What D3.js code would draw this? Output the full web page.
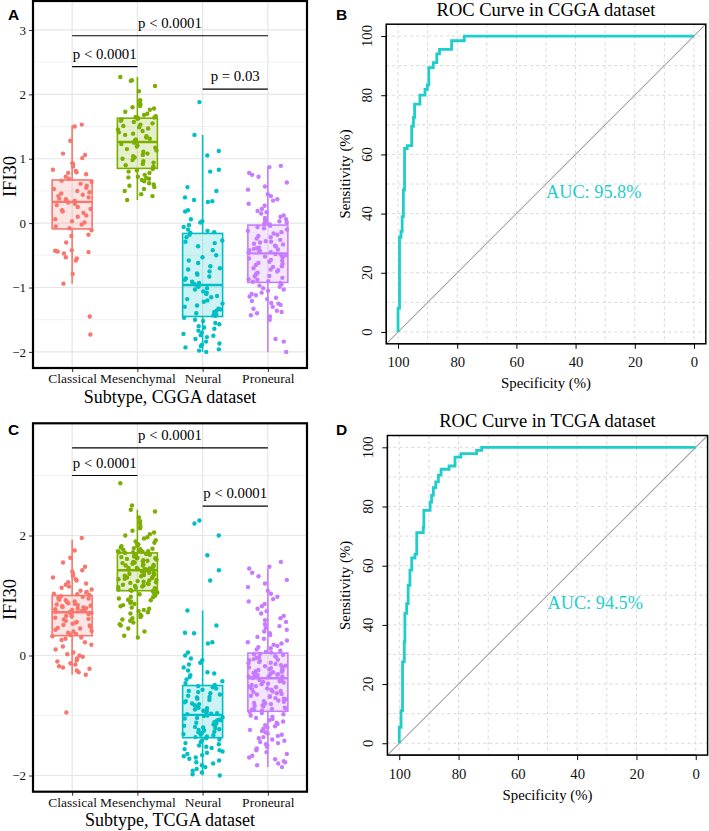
<!DOCTYPE html>
<html>
<head>
<meta charset="utf-8">
<title>IFI30 by subtype and ROC curves</title>
<script src="https://d3js.org/d3.v7.min.js"></script>
<style>
  body { margin: 0; background: #fff; }
  svg { display: block; }
</style>
</head>
<body>
<svg width="709" height="831"></svg>
<script>
// ---- data ----
var subtypes = ['Classical', 'Mesenchymal', 'Neural', 'Proneural'];
var colors = ['#F8766D', '#7CAE00', '#00BFC4', '#C77CFF'];
var rocColor = '#1FCECB';

// CGGA IFI30 values per subtype
var cggaClassical = [1.53,1.50,1.28,1.08,1.06,1.01,0.93,0.92,0.88,0.83,0.81,0.79,0.78,0.76,0.72,0.69,
  0.66,0.64,0.61,0.58,0.55,0.53,0.50,0.48,0.46,0.44,0.42,0.40,0.38,0.37,0.35,0.34,
  0.32,0.30,0.28,0.25,0.22,0.20,0.18,0.16,0.12,0.10,0.06,0.03,0.01,-0.02,-0.05,-0.08,
  -0.11,-0.18,-0.20,-0.30,-0.42,-0.43,-0.45,-0.47,-0.53,-0.55,-0.58,-0.79,-0.94,-1.45,-1.73,-0.44];
var cggaMesenchymal = [2.27,2.22,2.21,2.13,2.05,1.91,1.86,1.84,1.82,1.80,1.78,1.76,1.73,1.70,1.68,1.66,1.65,1.64,1.64,1.63,
  1.62,1.61,1.59,1.57,1.55,1.53,1.51,1.49,1.47,1.45,1.43,1.41,1.39,1.37,1.35,1.33,1.31,1.30,1.28,1.27,
  1.25,1.23,1.21,1.19,1.17,1.15,1.13,1.11,1.08,1.06,1.04,1.02,1.00,0.98,0.96,0.94,0.92,0.90,0.88,0.86,
  0.84,0.82,0.80,0.78,0.75,0.72,0.71,0.70,0.69,0.67,0.65,0.62,0.60,0.58,0.56,0.53,0.50,0.45,0.42,0.36];
var cggaNeural = [1.88,1.37,1.12,1.05,0.83,0.80,0.56,0.50,0.40,0.36,0.34,0.33,0.20,0.18,0.06,0.03,0.01,-0.03,-0.06,-0.10,-0.12,-0.14,-0.15,
  -0.18,-0.22,-0.27,-0.29,-0.31,-0.36,-0.42,-0.50,-0.53,-0.58,-0.62,-0.67,-0.70,-0.72,-0.75,-0.78,-0.80,-0.83,-0.86,-0.88,-0.91,-0.93,-0.95,
  -0.97,-0.99,-1.01,-1.03,-1.06,-1.08,-1.10,-1.13,-1.15,-1.18,-1.20,-1.22,-1.25,-1.28,-1.30,-1.33,-1.34,-1.36,-1.38,-1.40,-1.42,-1.43,-1.44,
  -1.47,-1.50,-1.52,-1.55,-1.57,-1.60,-1.62,-1.64,-1.67,-1.70,-1.72,-1.74,-1.75,-1.77,-1.80,-1.84,-1.87,-1.89,-1.91,-1.93,-1.96,-1.98,-2.00];
var cggaProneural = [0.89,0.87,0.78,0.75,0.72,0.63,0.57,0.52,0.45,0.42,0.37,0.35,0.30,0.27,0.22,0.19,0.17,0.15,0.12,0.10,0.08,0.06,0.05,0.03,0.02,0.01,-0.01,-0.02,
  -0.04,-0.06,-0.08,-0.10,-0.12,-0.14,-0.16,-0.18,-0.20,-0.22,-0.24,-0.26,-0.28,-0.29,-0.30,-0.32,-0.33,-0.35,-0.36,-0.38,-0.39,-0.40,-0.41,-0.42,-0.43,-0.44,-0.45,-0.46,
  -0.48,-0.49,-0.50,-0.52,-0.53,-0.55,-0.57,-0.58,-0.60,-0.62,-0.63,-0.65,-0.67,-0.68,-0.70,-0.72,-0.73,-0.75,-0.77,-0.78,-0.80,-0.82,-0.83,-0.85,-0.87,-0.88,-0.90,-0.91,
  -0.93,-0.95,-0.97,-0.99,-1.01,-1.03,-1.05,-1.08,-1.10,-1.12,-1.14,-1.16,-1.18,-1.21,-1.24,-1.27,-1.30,-1.33,-1.36,-1.38,-1.40,-1.43,-1.45,-1.50,-1.80,-1.84,-2.00,-1.25];

// CGGA box statistics
var cggaLow    = [-0.94, 0.36, -2.00, -2.00];
var cggaQ1     = [-0.09, 0.85, -1.45, -0.92];
var cggaMedian = [ 0.33, 1.26, -0.96, -0.47];
var cggaQ3     = [ 0.67, 1.63, -0.16, -0.03];
var cggaHigh   = [ 1.52, 2.27,  1.37,  0.87];

// TCGA IFI30 values per subtype
var tcgaClassical = [1.96,1.75,1.63,1.55,1.48,1.42,1.40,1.36,1.33,1.30,1.27,1.25,1.22,1.20,1.18,1.15,1.13,1.10,1.08,1.06,1.05,1.03,1.02,1.01,
  0.99,0.98,0.96,0.95,0.93,0.92,0.90,0.89,0.87,0.86,0.85,0.84,0.83,0.82,0.81,0.80,0.79,0.78,0.77,0.76,0.75,0.74,0.73,0.72,
  0.71,0.69,0.68,0.66,0.65,0.63,0.61,0.60,0.58,0.56,0.55,0.53,0.51,0.50,0.48,0.46,0.45,0.43,0.41,0.40,0.38,0.36,0.35,0.34,
  0.32,0.30,0.28,0.26,0.22,0.18,0.15,0.10,0.05,0.02,0.00,-0.02,-0.05,-0.08,-0.10,-0.13,-0.15,-0.18,-0.20,-0.22,-0.25,-0.28,-0.32,-0.95];
var tcgaMesenchymal = [2.87,2.50,2.43,2.40,2.30,2.24,2.20,2.15,2.12,2.08,2.05,2.02,2.00,1.97,1.95,1.92,1.90,1.88,1.86,1.85,1.83,1.82,1.80,1.79,1.78,1.77,1.76,1.75,1.74,1.74,1.73,1.72,1.72,1.71,
  1.70,1.69,1.68,1.68,1.67,1.66,1.65,1.64,1.63,1.62,1.62,1.61,1.60,1.59,1.58,1.57,1.56,1.55,1.54,1.53,1.52,1.51,1.50,1.50,1.49,1.48,1.47,1.46,1.46,1.45,1.44,1.44,1.43,1.43,
  1.41,1.40,1.39,1.38,1.37,1.36,1.35,1.34,1.33,1.32,1.31,1.30,1.29,1.28,1.27,1.26,1.25,1.24,1.23,1.22,1.21,1.20,1.19,1.18,1.17,1.16,1.15,1.14,1.13,1.12,1.11,1.10,1.09,1.08,
  1.07,1.05,1.04,1.02,1.00,0.98,0.97,0.95,0.93,0.92,0.90,0.88,0.86,0.84,0.82,0.80,0.78,0.76,0.74,0.72,0.70,0.68,0.66,0.64,0.62,0.60,0.58,0.55,0.52,0.50,0.45,0.40,0.33,0.30];
var tcgaNeural = [2.25,2.20,2.00,1.67,1.42,1.25,0.75,0.50,0.38,0.37,0.22,0.20,0.05,0.00,-0.05,-0.08,-0.12,-0.15,-0.20,-0.25,-0.28,-0.30,-0.33,-0.36,-0.40,-0.43,-0.46,-0.49,
  -0.51,-0.53,-0.55,-0.57,-0.59,-0.61,-0.63,-0.65,-0.67,-0.69,-0.70,-0.72,-0.74,-0.76,-0.78,-0.80,-0.81,-0.83,-0.85,-0.87,-0.88,-0.90,-0.92,-0.93,-0.95,-0.96,-0.97,-0.98,
  -1.00,-1.01,-1.03,-1.04,-1.05,-1.07,-1.08,-1.09,-1.11,-1.12,-1.13,-1.15,-1.16,-1.17,-1.19,-1.20,-1.21,-1.23,-1.24,-1.25,-1.27,-1.28,-1.29,-1.31,-1.32,-1.33,-1.35,-1.36,
  -1.38,-1.40,-1.42,-1.44,-1.46,-1.48,-1.50,-1.52,-1.54,-1.56,-1.58,-1.60,-1.62,-1.64,-1.66,-1.68,-1.70,-1.72,-1.75,-1.78,-1.80,-1.83,-1.86,-1.89,-1.92,-1.95,-1.98,-2.00];
var tcgaProneural = [1.56,1.48,1.45,1.38,1.32,1.26,1.20,1.14,1.08,1.03,0.98,0.94,0.90,0.86,0.82,0.78,0.74,0.70,0.66,0.62,0.59,0.56,0.52,0.49,0.46,0.43,0.40,0.37,0.34,0.31,0.28,0.25,0.22,0.20,0.18,0.16,0.14,0.12,0.10,0.08,0.06,0.05,
  0.03,0.02,0.01,-0.01,-0.02,-0.03,-0.04,-0.06,-0.07,-0.08,-0.09,-0.11,-0.12,-0.13,-0.14,-0.16,-0.17,-0.18,-0.19,-0.20,-0.21,-0.22,-0.23,-0.24,-0.25,-0.26,-0.27,-0.28,-0.29,-0.30,-0.31,-0.32,-0.32,-0.33,-0.33,-0.34,-0.34,-0.35,-0.35,-0.36,-0.36,-0.37,
  -0.39,-0.40,-0.41,-0.43,-0.44,-0.45,-0.47,-0.48,-0.49,-0.51,-0.52,-0.53,-0.55,-0.56,-0.57,-0.59,-0.60,-0.61,-0.63,-0.64,-0.65,-0.67,-0.68,-0.69,-0.71,-0.72,-0.73,-0.75,-0.76,-0.77,-0.79,-0.80,-0.81,-0.83,-0.84,-0.85,-0.87,-0.88,-0.89,-0.90,-0.91,-0.92,
  -0.94,-0.96,-0.98,-1.00,-1.02,-1.04,-1.06,-1.08,-1.10,-1.12,-1.14,-1.16,-1.18,-1.20,-1.22,-1.24,-1.26,-1.28,-1.30,-1.32,-1.34,-1.36,-1.38,-1.40,-1.42,-1.44,-1.46,-1.48,-1.50,-1.52,-1.55,-1.58,-1.61,-1.64,-1.67,-1.70,-1.73,-1.76,-1.78,-1.80,-1.83,-1.86];

// TCGA box statistics
var tcgaLow    = [-0.32, 0.30, -2.00, -1.86];
var tcgaQ1     = [ 0.33, 1.08, -1.37, -0.93];
var tcgaMedian = [ 0.72, 1.42, -0.99, -0.38];
var tcgaQ3     = [ 1.00, 1.71, -0.50,  0.04];
var tcgaHigh   = [ 1.93, 2.43,  0.75,  1.45];

// pairwise comparisons
var comparePairs = [['Classical', 'Proneural'], ['Classical', 'Mesenchymal'], ['Neural', 'Proneural']];
var cggaPLabels = ['p < 0.0001', 'p < 0.0001', 'p = 0.03'];
var cggaPY = [2.91, 2.43, 2.08];
var tcgaPLabels = ['p < 0.0001', 'p < 0.0001', 'p < 0.0001'];
var tcgaPY = [3.46, 3.00, 2.49];

// ROC step points (specificity %, sensitivity %)
var rocCggaSpec = [100, 100, 99.5, 99.0, 98.6, 98.2, 97.8, 96.9, 95.4, 94.8, 94.4, 92.6, 90.9, 90.1, 89.6, 88.1, 86.9, 86.0, 81.9, 77.6, 0];
var rocCggaSens = [0, 8, 32, 34, 39, 48, 62, 63, 69.5, 72.5, 77, 80, 82, 83.5, 89.3, 91, 94, 95.5, 98.4, 100, 100];
var rocTcgaSpec = [100, 100, 99.4, 98.9, 98.3, 98.1, 97.5, 97.0, 96.4, 95.8, 94.7, 94.1, 91.9, 91.7, 89.6, 89.1, 88.5, 87.7, 86.8, 85.9, 83.2, 81.2, 79.2, 73.9, 72.2, 0];
var rocTcgaSens = [0, 5.4, 11, 27.5, 34.3, 43.9, 47.2, 53.4, 58.5, 62.6, 63.9, 71.2, 73, 78.7, 81.5, 83.8, 86.4, 88.3, 90.6, 92.6, 93.7, 96.7, 97.9, 99, 100, 100];
var rocTicks = [100, 80, 60, 40, 20, 0];

var serif = "'Liberation Serif', 'Times New Roman', serif";
var sans = "'Liberation Sans', Arial, sans-serif";
var svg = d3.select('svg');

function minusFmt(d) { return d < 0 ? '\u2212' + Math.abs(d) : String(d); }

// deterministic horizontal jitter in [-0.5, 0.5)
function jitter(k, i) {
  var v = Math.sin((k + 1) * 12.9898 + (i + 1) * 78.233) * 43758.5453;
  return v - Math.floor(v) - 0.5;
}

function drawBoxPanel(o) {
  var g = svg.append('g');
  var x = d3.scalePoint().domain(subtypes).range([o.left, o.right]).padding(0.6);
  var y = d3.scaleLinear().domain(o.yDomain).range([o.bottom, o.top]);
  var half = 20;

  // grid
  g.selectAll('.minor').data(o.minor).enter().append('line')
    .attr('x1', o.left).attr('x2', o.right)
    .attr('y1', d => y(d)).attr('y2', d => y(d))
    .attr('stroke', '#efefef').attr('stroke-width', 0.8);
  g.selectAll('.major').data(o.major).enter().append('line')
    .attr('x1', o.left).attr('x2', o.right)
    .attr('y1', d => y(d)).attr('y2', d => y(d))
    .attr('stroke', '#e6e6e6').attr('stroke-width', 1.2);
  g.selectAll('.vgrid').data(subtypes).enter().append('line')
    .attr('x1', d => x(d)).attr('x2', d => x(d))
    .attr('y1', o.top).attr('y2', o.bottom)
    .attr('stroke', '#e6e6e6').attr('stroke-width', 1.2);

  // boxes
  subtypes.forEach(function (s, i) {
    var cx = x(s), c = colors[i];
    var b = g.append('g');
    b.append('line').attr('x1', cx).attr('x2', cx)
      .attr('y1', y(o.q3[i])).attr('y2', y(o.high[i]))
      .attr('stroke', c).attr('stroke-width', 1.6);
    b.append('line').attr('x1', cx).attr('x2', cx)
      .attr('y1', y(o.q1[i])).attr('y2', y(o.low[i]))
      .attr('stroke', c).attr('stroke-width', 1.6);
    b.append('rect').attr('x', cx - half).attr('width', half * 2)
      .attr('y', y(o.q3[i])).attr('height', y(o.q1[i]) - y(o.q3[i]))
      .attr('fill', c).attr('fill-opacity', 0.2)
      .attr('stroke', c).attr('stroke-width', 1.6);
    b.append('line').attr('x1', cx - half).attr('x2', cx + half)
      .attr('y1', y(o.median[i])).attr('y2', y(o.median[i]))
      .attr('stroke', c).attr('stroke-width', 2.4);
  });

  // jittered points
  o.groups.forEach(function (vals, i) {
    var cx = x(subtypes[i]);
    g.append('g').selectAll('circle').data(vals).enter().append('circle')
      .attr('cx', (d, k) => cx + jitter(k, i) * 2 * half)
      .attr('cy', d => y(d))
      .attr('r', 2.2)
      .attr('fill', colors[i]);
  });

  // comparison brackets
  comparePairs.forEach(function (p, i) {
    var x1 = x(p[0]), x2 = x(p[1]), yy = y(o.pY[i]);
    g.append('line').attr('x1', x1).attr('x2', x2).attr('y1', yy).attr('y2', yy)
      .attr('stroke', '#000').attr('stroke-width', 1.2);
    g.append('text').attr('x', (x1 + x2) / 2).attr('y', yy - 8)
      .attr('text-anchor', 'middle').attr('font-family', serif).attr('font-size', 14.8)
      .text(o.pLabels[i]);
  });

  // axes
  var ya = g.append('g').attr('transform', 'translate(' + o.left + ',0)')
    .call(d3.axisLeft(y).tickValues(o.major).tickSize(4).tickPadding(3).tickFormat(minusFmt));
  var xa = g.append('g').attr('transform', 'translate(0,' + o.bottom + ')')
    .call(d3.axisBottom(x).tickSize(4).tickPadding(1.5));
  [ya, xa].forEach(function (a) {
    a.select('.domain').remove();
    a.selectAll('line').attr('stroke', '#333');
    a.selectAll('text').attr('font-family', serif).attr('fill', '#111');
  });
  ya.selectAll('text').attr('font-size', 13);
  xa.selectAll('text').attr('font-size', 13.5);

  // frame
  g.append('rect').attr('x', o.left).attr('y', o.top)
    .attr('width', o.right - o.left).attr('height', o.bottom - o.top)
    .attr('fill', 'none').attr('stroke', '#000').attr('stroke-width', 2.2);

  // titles
  g.append('text').attr('x', (o.left + o.right) / 2).attr('y', o.bottom + 34.5)
    .attr('text-anchor', 'middle').attr('font-family', serif).attr('font-size', 18)
    .text(o.xTitle);
  var my = (o.top + o.bottom) / 2 - 8;
  g.append('text').attr('transform', 'translate(16,' + my + ') rotate(-90)')
    .attr('text-anchor', 'middle').attr('font-family', serif).attr('font-size', 18.5)
    .text('IFI30');
  g.append('text').attr('x', 8).attr('y', o.tagY)
    .attr('font-family', sans).attr('font-weight', 'bold').attr('font-size', 15.5)
    .text(o.tag);
}

function drawRocPanel(o) {
  var g = svg.append('g');
  var x = d3.scaleLinear().domain([104, -4]).range([o.left, o.right]);
  var y = d3.scaleLinear().domain([-4, 104]).range([o.bottom, o.top]);
  var grid = d3.range(0, 101, 10);

  g.selectAll('.gx').data(grid).enter().append('line')
    .attr('x1', d => x(d)).attr('x2', d => x(d)).attr('y1', o.top).attr('y2', o.bottom)
    .attr('stroke', '#d8d8d8').attr('stroke-dasharray', '3,3');
  g.selectAll('.gy').data(grid).enter().append('line')
    .attr('y1', d => y(d)).attr('y2', d => y(d)).attr('x1', o.left).attr('x2', o.right)
    .attr('stroke', '#d8d8d8').attr('stroke-dasharray', '3,3');

  // chance diagonal
  g.append('line').attr('x1', x(104)).attr('y1', y(-4)).attr('x2', x(-4)).attr('y2', y(104))
    .attr('stroke', '#a6a6a6').attr('stroke-width', 1.1);

  var pts = o.spec.map((s, i) => [s, o.sens[i]]);
  g.append('path').datum(pts)
    .attr('d', d3.line().x(d => x(d[0])).y(d => y(d[1])).curve(d3.curveStepAfter))
    .attr('fill', 'none').attr('stroke', rocColor).attr('stroke-width', 2.8);

  g.append('text').attr('x', x(50)).attr('y', y(50) + 13.5)
    .attr('font-family', serif).attr('font-size', 18.3).attr('fill', rocColor)
    .text(o.auc);

  // axes
  var xa = g.append('g').attr('transform', 'translate(0,' + o.bottom + ')')
    .call(d3.axisBottom(x).tickValues(rocTicks).tickSize(5).tickPadding(8));
  xa.select('.domain').attr('d', 'M' + x(100) + ',0H' + x(0)).attr('stroke', '#000');
  xa.selectAll('line').attr('stroke', '#000');
  xa.selectAll('text').attr('font-family', serif).attr('font-size', 14.7).attr('fill', '#111');

  var ya = g.append('g').attr('transform', 'translate(' + o.left + ',0)')
    .call(d3.axisLeft(y).tickValues(rocTicks).tickSize(5).tickFormat(''));
  ya.select('.domain').attr('d', 'M0,' + y(0) + 'V' + y(100)).attr('stroke', '#000');
  ya.selectAll('line').attr('stroke', '#000');
  g.selectAll('.ylab').data(rocTicks).enter().append('text')
    .attr('transform', d => 'translate(' + (o.left - 14.5) + ',' + y(d) + ') rotate(-90)')
    .attr('text-anchor', 'middle').attr('font-family', serif).attr('font-size', 14.7).attr('fill', '#111')
    .text(d => d);

  g.append('rect').attr('x', o.left).attr('y', o.top)
    .attr('width', o.right - o.left).attr('height', o.bottom - o.top)
    .attr('fill', 'none').attr('stroke', '#000').attr('stroke-width', 1.5);

  g.append('text').attr('x', (o.left + o.right) / 2).attr('y', o.bottom + 44.5)
    .attr('text-anchor', 'middle').attr('font-family', serif).attr('font-size', 14.8)
    .text('Specificity (%)');
  g.append('text')
    .attr('transform', 'translate(350,' + ((o.top + o.bottom) / 2 - 10) + ') rotate(-90)')
    .attr('text-anchor', 'middle').attr('font-family', serif).attr('font-size', 14.8)
    .text('Sensitivity (%)');
  g.append('text').attr('x', (o.left + o.right) / 2).attr('y', o.top - 8.7)
    .attr('text-anchor', 'middle').attr('font-family', serif).attr('font-size', 18.5)
    .text(o.title);
  g.append('text').attr('x', 336).attr('y', o.tagY)
    .attr('font-family', sans).attr('font-weight', 'bold').attr('font-size', 15.5)
    .text(o.tag);
}

drawBoxPanel({
  tag: 'A', tagY: 20, left: 33, right: 307, top: 1, bottom: 368,
  yDomain: [-2.25, 3.45], major: [-2, -1, 0, 1, 2, 3], minor: [-1.5, -0.5, 0.5, 1.5, 2.5],
  groups: [cggaClassical, cggaMesenchymal, cggaNeural, cggaProneural],
  low: cggaLow, q1: cggaQ1, median: cggaMedian, q3: cggaQ3, high: cggaHigh,
  pLabels: cggaPLabels, pY: cggaPY, xTitle: 'Subtype, CGGA dataset'
});
drawBoxPanel({
  tag: 'C', tagY: 435, left: 33, right: 307, top: 423.3, bottom: 791.7,
  yDomain: [-2.27, 3.87], major: [-2, 0, 2], minor: [-1, 1, 3],
  groups: [tcgaClassical, tcgaMesenchymal, tcgaNeural, tcgaProneural],
  low: tcgaLow, q1: tcgaQ1, median: tcgaMedian, q3: tcgaQ3, high: tcgaHigh,
  pLabels: tcgaPLabels, pY: tcgaPY, xTitle: 'Subtype, TCGA dataset'
});
drawRocPanel({
  tag: 'B', tagY: 20, left: 386.2, right: 705.8, top: 24.2, bottom: 343.8,
  spec: rocCggaSpec, sens: rocCggaSens, auc: 'AUC: 95.8%', title: 'ROC Curve in CGGA dataset'
});
drawRocPanel({
  tag: 'D', tagY: 435, left: 387.4, right: 707.6, top: 435.5, bottom: 755.1,
  spec: rocTcgaSpec, sens: rocTcgaSens, auc: 'AUC: 94.5%', title: 'ROC Curve in TCGA dataset'
});
</script>
</body>
</html>
